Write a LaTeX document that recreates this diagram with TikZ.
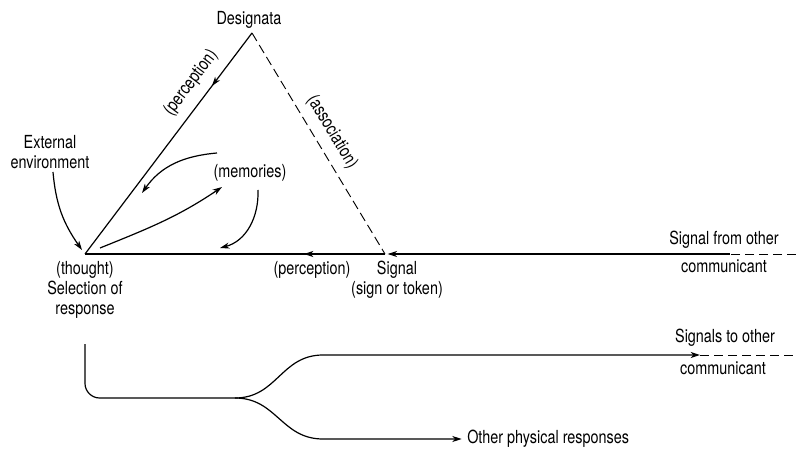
\documentclass[tikz,border=0pt]{standalone}
\usepackage{fontspec}
\setmainfont{TeX Gyre Heros}[FakeStretch=0.8]
\usetikzlibrary{arrows.meta, decorations.markings, positioning}
\tikzstyle{line} = [draw, line width=0.9pt]
\tikzstyle{dline} = [draw, line width=0.7pt, dash pattern=on 7pt off 3.5pt]
\tikzstyle{lbl} = [inner sep=0pt, align=center, font=\fontsize{13.5}{15}\selectfont]
\tikzset{midarrow/.style={postaction={decorate},
    decoration={markings, mark=at position #1 with {\arrow{>}}}}}

\begin{document}
\begin{tikzpicture}[x=0.75pt, y=0.75pt, >={Stealth[length=7pt, width=4.5pt, inset=2pt]}]
	\useasboundingbox (0,0) rectangle (796,-449);
	% corners of the triangle
	\coordinate (thought) at (85,-254);
	\coordinate (desig) at (252,-33);
	\coordinate (signal) at (385,-254);
	\coordinate (fromother) at (730,-254);
	\coordinate (redge) at (796,-254);

	% labels
	\node [lbl] (designata) at (249,-20) {Designata};
	\node [lbl, rotate=53] (perc1) at (191,-83) {(perception)};
	\node [lbl, rotate=-59] (assoc) at (332,-132) {(association)};
	\node [lbl] (extenv) at (50,-152) {External\\environment};
	\node [lbl] (mem) at (250,-173) {(memories)};
	\node [lbl] (select) at (85,-290) {(thought)\\Selection of\\response};
	\node [lbl] (perc2) at (312,-270) {(perception)};
	\node [lbl] (sigtok) at (397,-280) {Signal\\(sign or token)};
	\node [lbl] (sigfrom) at (724,-240) {Signal from other};
	\node [lbl] (comm1) at (724,-266) {communicant};
	\node [lbl] (sigsto) at (725,-338) {Signals to other};
	\node [lbl] (comm2) at (723,-368) {communicant};
	\node [lbl, anchor=west] (other) at (467,-439) {Other physical responses};

	% triangle
	\path [line, midarrow=0.24] (desig) -- (thought);
	\path [dline] (desig) -- (signal);
	\path [line, midarrow=0.27] (signal) -- (thought);
	\path [line, ->, shorten >=2pt] (fromother) -- (signal);
	\path [dline] (redge) -- (fromother);

	% inner arrows
	\coordinate (m1) at (142,-193);
	\coordinate (m2) at (100,-248);
	\coordinate (m3) at (220,-248);
	\path [line, ->] ([shift={(3,-20)}]extenv.center) to [out=-85, in=125] ([shift={(-3,4)}]thought);
	\path [line, ->] ([shift={(-33,20)}]mem.center) to [out=185, in=55] (m1);
	\path [line, ->] (m2) to [out=22, in=-146] ([shift={(-28,-14)}]mem.center);
	\path [line, ->] ([shift={(8,-17)}]mem.center) to [out=-88, in=15] (m3);

	% responses
	\coordinate (resp) at (85,-344);
	\coordinate (fork) at (235,-398);
	\coordinate (up) at (323,-355);
	\coordinate (low) at (323,-439);
	\coordinate (sigto) at (700,-355);
	\coordinate (sigend) at (796,-355);
	\path [line, rounded corners=11pt] (resp) |- (fork);
	\path [line, ->] (fork) to [out=0, in=180, looseness=1.1] (up) -- (sigto);
	\path [line, ->] (fork) to [out=0, in=180, looseness=1.1] (low) -- ([xshift=-4]other.west);
	\path [dline] (sigto) -- (sigend);
\end{tikzpicture}
\end{document}
